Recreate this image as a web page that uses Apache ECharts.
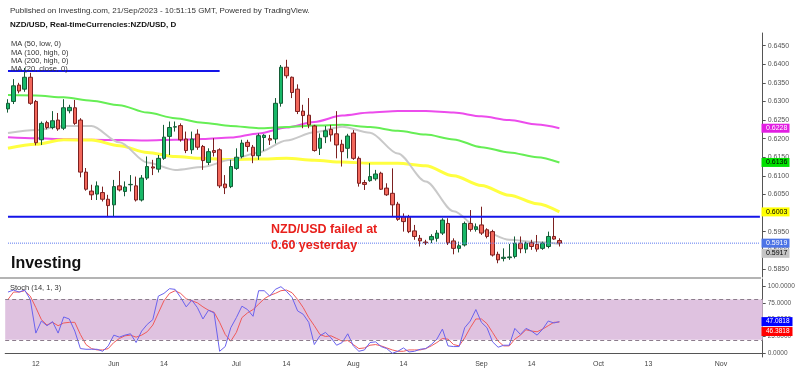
<!DOCTYPE html>
<html><head><meta charset="utf-8">
<script src="https://cdn.jsdelivr.net/npm/echarts@6/dist/echarts.min.js"></script>
<style>html,body{margin:0;padding:0;background:#fff}#c{width:800px;height:372px}</style>
</head><body><div id="c"></div>
<script>
// ---------- DATA ----------
const firstDay = '2023-05-05';
const lastDay = '2023-11-10';
function weekdays(a, b) {
  const out = []; let d = new Date(a + 'T00:00:00Z'); const e = new Date(b + 'T00:00:00Z');
  while (d <= e) { const w = d.getUTCDay(); if (w !== 0 && w !== 6) out.push(d.toISOString().slice(0, 10)); d = new Date(d.getTime() + 86400000); }
  return out;
}
const categories = weekdays(firstDay, lastDay);

const open  = [0.6280,0.6300,0.6344,0.6333,0.6365,0.6300,0.6197,0.6243,0.6230,0.6250,0.6228,0.6275,0.6283,0.6250,0.6110,0.6059,0.6051,0.6055,0.6037,0.6022,0.6073,0.6058,0.6076,0.6073,0.6035,0.6094,0.6124,0.6118,0.6147,0.6206,0.6231,0.6235,0.6199,0.6170,0.6212,0.6179,0.6136,0.6168,0.6170,0.6078,0.6071,0.6120,0.6152,0.6190,0.6177,0.6154,0.6203,0.6200,0.6199,0.6295,0.6392,0.6365,0.6333,0.6274,0.6263,0.6234,0.6174,0.6205,0.6225,0.6213,0.6185,0.6174,0.6215,0.6147,0.6082,0.6087,0.6092,0.6107,0.6067,0.6053,0.6024,0.5990,0.5990,0.5952,0.5932,0.5922,0.5928,0.5932,0.5946,0.5972,0.5925,0.5905,0.5914,0.5972,0.5956,0.5968,0.5955,0.5950,0.5889,0.5878,0.5880,0.5883,0.5919,0.5903,0.5920,0.5916,0.5905,0.5910,0.5937,0.5926];
const high  = [0.6306,0.6360,0.6350,0.6390,0.6377,0.6304,0.6246,0.6248,0.6274,0.6269,0.6306,0.6291,0.6304,0.6255,0.6121,0.6076,0.6085,0.6071,0.6049,0.6089,0.6113,0.6085,0.6102,0.6098,0.6102,0.6152,0.6143,0.6156,0.6237,0.6246,0.6246,0.6241,0.6219,0.6219,0.6225,0.6183,0.6174,0.6201,0.6174,0.6102,0.6143,0.6174,0.6197,0.6197,0.6183,0.6214,0.6212,0.6210,0.6309,0.6398,0.6412,0.6367,0.6346,0.6291,0.6309,0.6237,0.6214,0.6234,0.6237,0.6274,0.6197,0.6213,0.6223,0.6152,0.6089,0.6134,0.6116,0.6111,0.6080,0.6120,0.6030,0.5999,0.5995,0.5968,0.5941,0.5928,0.5943,0.5954,0.5986,0.5986,0.5932,0.5923,0.5977,0.6008,0.5972,0.6017,0.5959,0.5955,0.5896,0.5905,0.5917,0.5937,0.5937,0.5923,0.5928,0.5941,0.5923,0.5950,0.5988,0.5932];
const low   = [0.6270,0.6293,0.6322,0.6326,0.6291,0.6182,0.6183,0.6225,0.6225,0.6221,0.6223,0.6268,0.6237,0.6096,0.6060,0.6035,0.6035,0.6031,0.5989,0.5992,0.6058,0.6045,0.6058,0.6031,0.6031,0.6089,0.6102,0.6109,0.6143,0.6156,0.6219,0.6192,0.6161,0.6159,0.6170,0.6116,0.6129,0.6152,0.6067,0.6051,0.6067,0.6116,0.6147,0.6165,0.6134,0.6143,0.6167,0.6183,0.6187,0.6286,0.6362,0.6309,0.6266,0.6228,0.6228,0.6165,0.6156,0.6188,0.6192,0.6147,0.6125,0.6147,0.6143,0.6071,0.6062,0.6084,0.6087,0.6062,0.6046,0.5992,0.5979,0.5950,0.5946,0.5928,0.5910,0.5914,0.5919,0.5923,0.5941,0.5914,0.5889,0.5894,0.5910,0.5950,0.5950,0.5941,0.5932,0.5883,0.5865,0.5870,0.5874,0.5878,0.5892,0.5892,0.5901,0.5896,0.5901,0.5905,0.5928,0.5910];
const close = [0.6295,0.6342,0.6328,0.6365,0.6295,0.6189,0.6241,0.6230,0.6248,0.6226,0.6283,0.6284,0.6241,0.6110,0.6064,0.6049,0.6073,0.6037,0.6020,0.6071,0.6062,0.6070,0.6077,0.6035,0.6094,0.6125,0.6121,0.6147,0.6204,0.6230,0.6232,0.6197,0.6168,0.6199,0.6177,0.6141,0.6165,0.6163,0.6073,0.6068,0.6125,0.6150,0.6188,0.6179,0.6154,0.6208,0.6209,0.6196,0.6295,0.6392,0.6369,0.6324,0.6273,0.6262,0.6237,0.6168,0.6201,0.6221,0.6210,0.6183,0.6165,0.6207,0.6147,0.6080,0.6077,0.6098,0.6105,0.6064,0.6049,0.6022,0.5983,0.5977,0.5950,0.5937,0.5925,0.5920,0.5937,0.5946,0.5981,0.5920,0.5905,0.5912,0.5972,0.5956,0.5963,0.5946,0.5937,0.5887,0.5874,0.5881,0.5882,0.5919,0.5904,0.5919,0.5910,0.5903,0.5919,0.5937,0.5930,0.5919];

const maIndex   = [0,5,10,15,20,25,30,35,40,45,50,55,60,65,70,75,80,85,90,95,99];
const ma50Low   = [0.6174,0.6185,0.6197,0.6196,0.6181,0.6163,0.6152,0.6147,0.6144,0.6145,0.6147,0.6142,0.6137,0.6134,0.6134,0.6127,0.6100,0.6074,0.6048,0.6025,0.6003];
const ma100High = [0.6317,0.6316,0.6311,0.6302,0.6290,0.6270,0.6255,0.6243,0.6234,0.6228,0.6231,0.6235,0.6237,0.6231,0.6221,0.6211,0.6198,0.6177,0.6163,0.6150,0.6136];
const ma200High = [0.6204,0.6201,0.6199,0.6197,0.6196,0.6195,0.6197,0.6199,0.6203,0.6214,0.6230,0.6245,0.6262,0.6270,0.6274,0.6274,0.6270,0.6260,0.6250,0.6238,0.6228];
const ma20Close = [0.6215,0.6223,0.6234,0.6234,0.6190,0.6136,0.6116,0.6124,0.6143,0.6163,0.6195,0.6217,0.6232,0.6216,0.6160,0.6085,0.6005,0.5953,0.5928,0.5922,0.5917];

const stochK = [91,94,91,94,80,30,48,41,47,30,54,51,33,7,6,6,6,3,11,27,24,27,29,16,33,43,50,85,89,96,95,83,69,79,68,51,64,60,3,10,38,53,70,65,55,93,93,85,95,99,92,83,63,58,46,13,26,31,23,12,16,29,11,3,5,16,17,10,7,0,3,8,2,3,6,7,13,21,36,11,10,10,38,48,65,46,38,17,9,12,12,37,28,37,33,27,36,48,45,47.0818];
const stochD = [80,91,91,93,85,68,50,42,46,41,45,46,46,28,13,7,5,5,7,16,22,26,27,24,27,32,42,60,78,89,93,89,81,78,75,69,64,61,46,28,18,31,53,60,65,73,81,86,89,93,94,90,80,68,53,41,28,25,26,22,18,19,13,7,8,12,13,11,8,5,3,3,5,5,5,7,11,16,22,21,13,11,23,38,51,51,44,31,18,11,11,21,27,35,33,32,36,41,46,46.3818];

const tickDates = ['2023-05-12','2023-06-01','2023-06-14','2023-07-03','2023-07-14','2023-08-01','2023-08-14','2023-09-01','2023-09-14','2023-10-02','2023-10-13','2023-11-01'];
const tickTexts = ['12','Jun','14','Jul','14','Aug','14','Sep','14','Oct','13','Nov'];

const resistanceLevel = 0.6382, resistanceEndIndex = 38;
const supportLevel = 0.5990;
const stochUpper = 80, stochLower = 20;

// ---------- CHART ----------
const F = "'Liberation Sans', Arial, sans-serif";
const chart = echarts.init(document.getElementById('c'), null, {renderer: 'canvas'});
const pairs = arr => maIndex.map((i, k) => [i, arr[k]]);
const lastClose = close[close.length - 1];
const lastIdx = categories.length - 1;

const gridL = 5.2, gridR = 37.3;
const hline = (name, y, x0, x1, style, z) => ({type: 'line', name: name, xAxisIndex: 0, yAxisIndex: 0,
  data: [[x0, y], [x1, y]], showSymbol: false, symbol: 'none', lineStyle: style, z: z, silent: true});

const option = {
  animation: false,
  backgroundColor: '#ffffff',
  textStyle: {fontFamily: F},
  grid: [
    {left: gridL, right: gridR, top: 33, height: 244, outerBoundsMode: 'none', containLabel: false},
    {left: gridL, right: gridR, top: 279, height: 78, outerBoundsMode: 'none', containLabel: false}
  ],
  xAxis: [
    {type: 'category', gridIndex: 0, data: categories, boundaryGap: true,
     axisLine: {show: false}, axisTick: {show: false}, axisLabel: {show: false}, splitLine: {show: false}},
    {type: 'category', gridIndex: 1, data: categories, boundaryGap: true,
     axisLine: {show: true, lineStyle: {color: '#555', width: 1}}, axisTick: {show: false},
     axisLabel: {interval: (i, v) => tickDates.indexOf(v) >= 0, formatter: v => tickTexts[tickDates.indexOf(v)] || '',
                 fontSize: 7, color: '#444', margin: 4, fontFamily: F, hideOverlap: false},
     splitLine: {show: false}}
  ],
  yAxis: [
    {type: 'value', gridIndex: 0, position: 'right', min: 0.5828, max: 0.6484, minInterval: 0.005, maxInterval: 0.005,
     axisLine: {show: true, lineStyle: {color: '#555', width: 1}}, axisTick: {show: true, length: 3, lineStyle: {color: '#555'}},
     axisLabel: {showMinLabel: false, showMaxLabel: false, formatter: v => v.toFixed(4), fontSize: 7, color: '#555', margin: 5, fontFamily: F},
     splitLine: {show: false}},
    {type: 'value', gridIndex: 1, position: 'right', min: -5.5, max: 110.4, minInterval: 25, maxInterval: 25,
     axisLine: {show: true, lineStyle: {color: '#555', width: 1}}, axisTick: {show: true, length: 3, lineStyle: {color: '#555'}},
     axisLabel: {showMinLabel: false, showMaxLabel: false, formatter: v => v.toFixed(4), fontSize: 6.5, color: '#555', margin: 5, fontFamily: F},
     splitLine: {show: false}}
  ],
  series: [
    {type: 'line', name: 'MA200', xAxisIndex: 0, yAxisIndex: 0, data: pairs(ma200High), smooth: 0.3, smoothMonotone: 'x', showSymbol: false, lineStyle: {color: '#ec4cec', width: 2}, z: 2, silent: true},
    {type: 'line', name: 'MA100', xAxisIndex: 0, yAxisIndex: 0, data: pairs(ma100High), smooth: 0.3, smoothMonotone: 'x', showSymbol: false, lineStyle: {color: '#66ee55', width: 2}, z: 2, silent: true},
    {type: 'line', name: 'MA50', xAxisIndex: 0, yAxisIndex: 0, data: pairs(ma50Low), smooth: 0.3, smoothMonotone: 'x', showSymbol: false, lineStyle: {color: '#ffff40', width: 3}, z: 2, silent: true},
    {type: 'line', name: 'MA20', xAxisIndex: 0, yAxisIndex: 0, data: pairs(ma20Close), smooth: 0.3, smoothMonotone: 'x', showSymbol: false, lineStyle: {color: '#c9c9c9', width: 2}, z: 2, silent: true},
    hline('resistance', resistanceLevel, 0, resistanceEndIndex, {color: '#1414e8', width: 2}, 6),
    hline('support', supportLevel, 0, lastIdx, {color: '#1414e8', width: 2}, 6),
    hline('last', lastClose, 0, lastIdx, {color: '#5a78f0', width: 1, type: 'dotted'}, 6),
    {type: 'candlestick', name: 'NZD/USD', xAxisIndex: 0, yAxisIndex: 0, barWidth: 4, z: 5,
     data: open.map((o, i) => [o, close[i], low[i], high[i]]),
     itemStyle: {color: '#18b868', color0: '#f2675b', borderColor: '#145c36', borderColor0: '#7c2020', borderWidth: 1}},
    {type: 'line', name: '%K', xAxisIndex: 1, yAxisIndex: 1, data: stochK, showSymbol: false, lineStyle: {color: '#6a62ee', width: 1}, z: 4, silent: true,
     markArea: {silent: true, itemStyle: {color: '#dfc2e0'}, data: [[{yAxis: stochLower}, {yAxis: stochUpper}]]},
     markLine: {symbol: 'none', silent: true, label: {show: false}, lineStyle: {color: '#8c7c8c', type: [4, 3], width: 1},
       data: [{yAxis: stochLower}, {yAxis: stochUpper}]}},
    {type: 'line', name: '%D', xAxisIndex: 1, yAxisIndex: 1, data: stochD, showSymbol: false, lineStyle: {color: '#f05a5a', width: 1}, z: 3, silent: true}
  ]
};
chart.setOption(option);

// right-hand value tags, positioned through the axes
const tagX = 761.5;
function tag(yAxisIndex, value, bg, fg, w, offsetBoxes) {
  const h = 9;
  const cy = chart.convertToPixel({yAxisIndex: yAxisIndex}, value) + offsetBoxes * h;
  return [
    {type: 'rect', shape: {x: tagX, y: cy - h / 2, width: w, height: h}, style: {fill: bg}, z: 100},
    {type: 'text', x: tagX + 4.5, y: cy, style: {text: value.toFixed(4), fill: fg, font: (yAxisIndex ? '6.5px ' : '7px ') + F, textVerticalAlign: 'middle', verticalAlign: 'middle'}, z: 101}
  ];
}
const g = [];
g.push(...tag(0, ma200High[ma200High.length - 1], '#e21ee2', '#ffffff', 28, 0));
g.push(...tag(0, ma100High[ma100High.length - 1], '#00e000', '#000000', 28, 0));
g.push(...tag(0, ma50Low[ma50Low.length - 1], '#ffff00', '#000000', 28, 0));
g.push(...tag(0, lastClose, '#4d74e6', '#ffffff', 28, 0));
g.push(...tag(0, ma20Close[ma20Close.length - 1], '#c4c4c4', '#000000', 28, 1.05));
g.push(...tag(1, stochK[stochK.length - 1], '#0000ff', '#ffffff', 31, 0));
g.push(...tag(1, stochD[stochD.length - 1], '#ff0000', '#ffffff', 31, 1.05));

// texts
const txt = (x, y, s, font, fill) => ({type: 'text', x: x, y: y, style: {text: s, font: font, fill: fill, textVerticalAlign: 'middle', verticalAlign: 'middle'}, z: 50});
g.push(txt(10, 11, 'Published on Investing.com, 21/Sep/2023 - 10:51:15 GMT, Powered by TradingView.', '8px ' + F, '#333'));
g.push(txt(10, 24.3, 'NZD/USD, Real-timeCurrencies:NZD/USD, D', 'bold 8px ' + F, '#111'));
g.push(txt(11, 44.3, 'MA (50, low, 0)', '7.5px ' + F, '#333'));
g.push(txt(11, 52.6, 'MA (100, high, 0)', '7.5px ' + F, '#333'));
g.push(txt(11, 60.9, 'MA (200, high, 0)', '7.5px ' + F, '#333'));
g.push(txt(11, 69.2, 'MA (20, close, 0)', '7.5px ' + F, '#333'));
g.push(txt(10, 288, 'Stoch (14, 1, 3)', '7.5px ' + F, '#333'));
g.push(txt(11, 264, 'Investing', 'bold 16px ' + F, '#111'));
g.push(txt(271, 230, 'NZD/USD failed at', 'bold 12.5px ' + F, '#e8201c'));
g.push(txt(271, 245.7, '0.60 yesterday', 'bold 12.5px ' + F, '#e8201c'));
g.push({type: 'line', shape: {x1: 0, y1: 278, x2: 761, y2: 278}, style: {stroke: '#b4b4b4', lineWidth: 2}, z: 40});
chart.setOption({graphic: g});
</script>
</body></html>
